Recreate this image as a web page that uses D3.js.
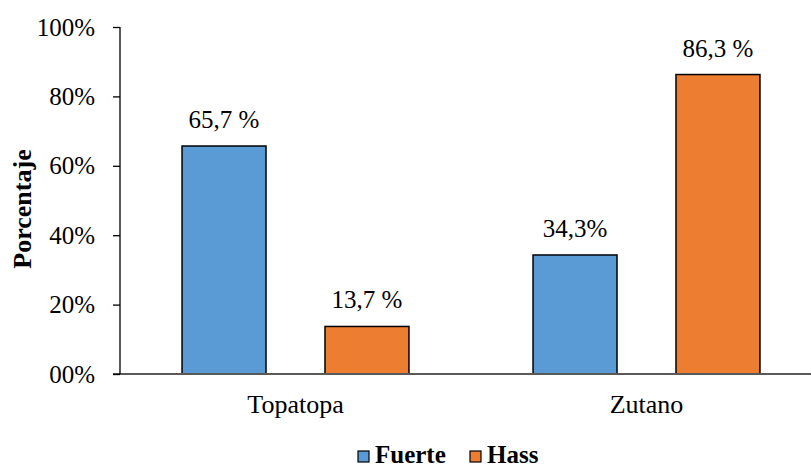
<!DOCTYPE html>
<html>
<head>
<meta charset="utf-8">
<script src="https://cdn.jsdelivr.net/npm/d3@7"></script>
<style>
  body { margin: 0; background: #fff; }
  svg { display: block; }
</style>
</head>
<body>
<svg id="chart" width="811" height="468"></svg>
<script>
// Data
const categories = ["Topatopa", "Zutano"];
const seriesNames = ["Fuerte", "Hass"];
const fuerteValues = [65.7, 34.3];
const hassValues = [13.7, 86.3];
const valueLabels = [["65,7 %", "34,3%"], ["13,7 %", "86,3 %"]];
const yTicks = [0, 20, 40, 60, 80, 100];
const yTickLabels = ["00%", "20%", "40%", "60%", "80%", "100%"];
const colors = ["#5B9BD5", "#ED7D31"];

const seriesValues = [fuerteValues, hassValues];
const FONT = "'Times New Roman', Times, 'Liberation Serif', 'DejaVu Serif', serif";

const svg = d3.select("#chart");
const plotLeft = 120, plotRight = 822, plotTop = 27, plotBottom = 374;

const y = d3.scaleLinear().domain([0, 100]).range([plotBottom, plotTop]);
const x0 = d3.scaleBand().domain(categories).range([plotLeft, plotRight]).padding(0);
const x1 = d3.scaleBand().domain(seriesNames).range([0, x0.bandwidth()])
  .paddingInner(0.4126).paddingOuter(0.434);

// Bars and value labels
categories.forEach((cat, ci) => {
  seriesNames.forEach((s, si) => {
    const v = seriesValues[si][ci];
    const bx = x0(cat) + x1(s);
    svg.append("rect")
      .attr("x", bx)
      .attr("y", y(v))
      .attr("width", x1.bandwidth())
      .attr("height", y(0) - y(v))
      .attr("fill", colors[si])
      .attr("stroke", "#000")
      .attr("stroke-width", 1.5);
    svg.append("text")
      .attr("x", bx + x1.bandwidth() / 2)
      .attr("y", y(v) - 18)
      .attr("text-anchor", "middle")
      .style("font-family", FONT)
      .attr("font-size", 25)
      .attr("fill", "#000")
      .text(valueLabels[si][ci]);
  });
});

// X axis line
svg.append("line")
  .attr("x1", 113).attr("x2", 811)
  .attr("y1", y(0)).attr("y2", y(0))
  .attr("stroke", "#595959").attr("stroke-width", 2);

// Y axis
const yAxis = d3.axisLeft(y).tickValues(yTicks)
  .tickFormat((d, i) => yTickLabels[i]).tickSize(7).tickPadding(18);
const gy = svg.append("g").attr("transform", `translate(${plotLeft},0)`).call(yAxis);
gy.select(".domain").attr("stroke", "#000").attr("stroke-width", 1.3)
  .attr("d", `M0,${plotTop}V${plotBottom}`);
gy.selectAll(".tick line").attr("stroke", "#000").attr("stroke-width", 1.3);
gy.selectAll(".tick text")
  .style("font-family", FONT)
  .attr("font-size", 25).attr("fill", "#000");

// Category labels
categories.forEach(cat => {
  svg.append("text")
    .attr("x", x0(cat) + x0.bandwidth() / 2)
    .attr("y", 413)
    .attr("text-anchor", "middle")
    .style("font-family", FONT)
    .attr("font-size", 26)
    .text(cat);
});

// Y title
svg.append("text")
  .attr("transform", `translate(31,209) rotate(-90)`)
  .attr("text-anchor", "middle")
  .style("font-family", FONT)
  .attr("font-size", 26)
  .attr("font-weight", "bold")
  .text("Porcentaje");

// Legend
const legendItems = [
  { name: "Fuerte", color: colors[0], x: 358 },
  { name: "Hass", color: colors[1], x: 470 }
];
legendItems.forEach(it => {
  svg.append("rect")
    .attr("x", it.x).attr("y", 451)
    .attr("width", 11).attr("height", 11)
    .attr("fill", it.color).attr("stroke", "#000").attr("stroke-width", 1.2);
  svg.append("text")
    .attr("x", it.x + 17).attr("y", 463)
    .style("font-family", FONT)
    .attr("font-size", 25).attr("font-weight", "bold")
    .text(it.name);
});
</script>
</body>
</html>
